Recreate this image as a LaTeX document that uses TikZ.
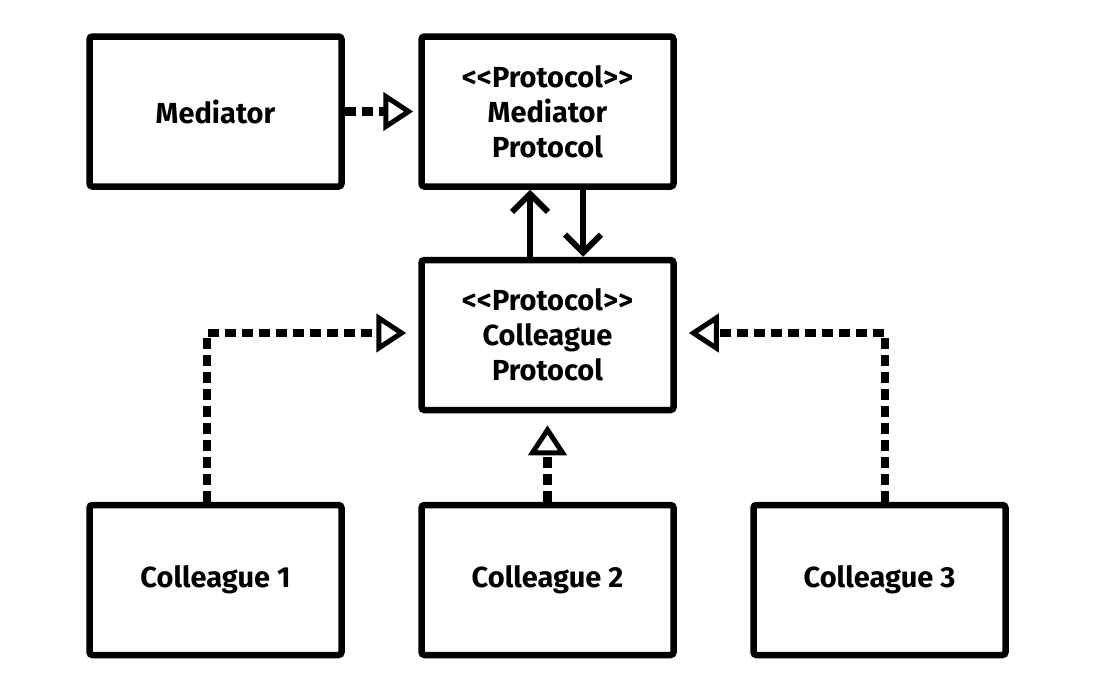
\documentclass[tikz,border=0pt]{standalone}
\usepackage{fontspec}
\setmainfont{Fira Sans}
\usetikzlibrary{arrows.meta}
\begin{document}
\begin{tikzpicture}[x=1pt,y=-1pt,
 box/.style={draw,line width=6.5pt,rounded corners=3pt,minimum width=252pt,minimum height=150pt,align=center,font=\fontsize{29}{35}\selectfont\bfseries},
 dep/.style={line width=8.5pt,dash pattern=on 11pt off 6pt,-{Triangle[open,length=30pt,width=38pt,line width=5pt]}}]
\useasboundingbox (0,0) rectangle (1104,688);
\node[box] (med) at (215.5,111.5) {Mediator};
\node[box] (mp) at (547.5,111.5) {<{}<Protocol>{}>\\Mediator\\Protocol};
\node[box] (cp) at (547.5,335) {<{}<Protocol>{}>\\Colleague\\Protocol};
\node[box] (c1) at (215.5,580) {Colleague 1};
\node[box] (c2) at (547.5,580) {Colleague 2};
\node[box] (c3) at (879.5,580) {Colleague 3};
\draw[dep] (med.east) -- ([xshift=-5pt]mp.west);
\draw[line width=6pt,-{Straight Barb[length=18pt,width=36pt]}] (cp.north -| 530,0) -- (mp.south -| 530,0);
\draw[line width=6pt,-{Straight Barb[length=18pt,width=36pt]}] (mp.south -| 583,0) -- (cp.north -| 583,0);
\coordinate (k1) at (207,333);
\coordinate (k3) at (885,333);
\draw[dep] (c1.north -| k1) -- (k1) -- ([xshift=-12pt]cp.west |- k1);
\draw[dep] (c3.north -| k3) -- (k3) -- ([xshift=12pt]cp.east |- k3);
\draw[dep] (c2.north) -- ([yshift=-12pt]cp.south);
\end{tikzpicture}
\end{document}
